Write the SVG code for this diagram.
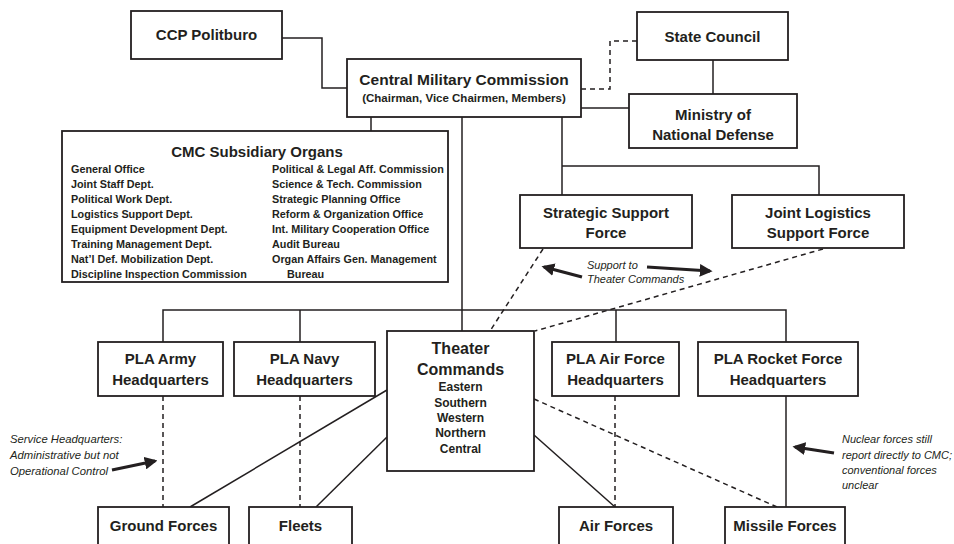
<svg xmlns="http://www.w3.org/2000/svg" width="954" height="544" viewBox="0 0 954 544">
<style>
.box{fill:#fff;stroke:#231f20;stroke-width:1.8}
.ln{fill:none;stroke:#231f20;stroke-width:1.5}
.dash{fill:none;stroke:#231f20;stroke-width:1.5;stroke-dasharray:5 4}
.arr{fill:none;stroke:#231f20;stroke-width:3.2}
text{font-family:"Liberation Sans",Arial,sans-serif;fill:#231f20}
.t{font-size:15px;font-weight:bold;text-anchor:middle}
.s{font-size:12px;font-weight:bold;text-anchor:middle}
.i{font-size:10.8px;font-weight:bold}
.n{font-size:11px;font-style:italic}
</style>
<defs>
<marker id="ah" viewBox="0 0 10 10" refX="8" refY="5" markerWidth="4" markerHeight="4" orient="auto" markerUnits="strokeWidth">
<path d="M0,0 L10,5 L0,10 Z" fill="#231f20"/>
</marker>
</defs>
<rect width="954" height="544" fill="#fff"/>
<g id="connectors">
<path class="ln" d="M282,38 H322 V88 H347"/>
<path class="dash" d="M581,89 H610 V41 H637"/>
<path class="ln" d="M713,60 V94"/>
<path class="ln" d="M581,108 H629"/>
<path class="ln" d="M371,117 V131"/>
<path class="ln" d="M562,117 V195"/>
<path class="ln" d="M562,166 H819 V195"/>
<path class="ln" d="M462,117 V331"/>
<path class="ln" d="M163,342 V310 H786 V342"/>
<path class="ln" d="M300,310 V342"/>
<path class="ln" d="M616,310 V342"/>
<path class="dash" d="M543,249 L490,331"/>
<path class="dash" d="M823,249 L535,331"/>
<path class="dash" d="M163,396 V507"/>
<path class="dash" d="M300,396 V507"/>
<path class="dash" d="M615,396 V507"/>
<path class="ln" d="M786,396 V507"/>
<path class="ln" d="M387,390 L190,507"/>
<path class="ln" d="M387,437 L316,507"/>
<path class="ln" d="M534,435 L615,507"/>
<path class="dash" d="M534,399 L777,507"/>
<path class="arr" d="M112,470 L155,461" marker-end="url(#ah)"/>
<path class="arr" d="M834,453 L795,447" marker-end="url(#ah)"/>
<path class="arr" d="M582,277 L544,267" marker-end="url(#ah)"/>
<path class="arr" d="M647,267 L710,271" marker-end="url(#ah)"/>
</g>
<g id="ccp-politburo"><rect class="box" x="131" y="11" width="151" height="48"/><text class="t" x="206.5" y="40">CCP Politburo</text></g>
<g id="cmc"><rect class="box" x="347" y="59" width="234" height="58"/><text class="t" x="464" y="85" style="font-size:15.5px">Central Military Commission</text><text class="s" x="464" y="102" style="font-size:11.5px">(Chairman, Vice Chairmen, Members)</text></g>
<g id="state-council"><rect class="box" x="637" y="12" width="151" height="48"/><text class="t" x="712.5" y="42">State Council</text></g>
<g id="mnd"><rect class="box" x="629" y="94" width="168" height="54"/><text class="t" x="713" y="120">Ministry of</text><text class="t" x="713" y="140">National Defense</text></g>
<g id="cmc-subsidiary-organs"><rect class="box" x="62" y="131" width="386" height="151"/>
<text class="t" x="257" y="157">CMC Subsidiary Organs</text>
<text class="i" x="71" y="173">General Office</text>
<text class="i" x="71" y="188">Joint Staff Dept.</text>
<text class="i" x="71" y="203">Political Work Dept.</text>
<text class="i" x="71" y="218">Logistics Support Dept.</text>
<text class="i" x="71" y="233">Equipment Development Dept.</text>
<text class="i" x="71" y="248">Training Management Dept.</text>
<text class="i" x="71" y="263">Nat’l Def. Mobilization Dept.</text>
<text class="i" x="71" y="278">Discipline Inspection Commission</text>
<text class="i" x="272" y="173">Political &amp; Legal Aff. Commission</text>
<text class="i" x="272" y="188">Science &amp; Tech. Commission</text>
<text class="i" x="272" y="203">Strategic Planning Office</text>
<text class="i" x="272" y="218">Reform &amp; Organization Office</text>
<text class="i" x="272" y="233">Int. Military Cooperation Office</text>
<text class="i" x="272" y="248">Audit Bureau</text>
<text class="i" x="272" y="263">Organ Affairs Gen. Management</text>
<text class="i" x="287" y="278">Bureau</text>
</g>
<g id="ssf"><rect class="box" x="520" y="195" width="172" height="53"/><text class="t" x="606" y="218">Strategic Support</text><text class="t" x="606" y="238">Force</text></g>
<g id="jlsf"><rect class="box" x="732" y="195" width="172" height="53"/><text class="t" x="818" y="218">Joint Logistics</text><text class="t" x="818" y="238">Support Force</text></g>
<g id="army-hq"><rect class="box" x="98" y="342" width="125" height="54"/><text class="t" x="160.5" y="364">PLA Army</text><text class="t" x="160.5" y="385">Headquarters</text></g>
<g id="navy-hq"><rect class="box" x="234" y="342" width="141" height="54"/><text class="t" x="304.5" y="364">PLA Navy</text><text class="t" x="304.5" y="385">Headquarters</text></g>
<g id="theater-commands"><rect class="box" x="387" y="331" width="147" height="140"/>
<text class="t" x="460.5" y="354" style="font-size:16px">Theater</text>
<text class="t" x="460.5" y="375" style="font-size:16px">Commands</text>
<text class="s" x="460.5" y="391">Eastern</text>
<text class="s" x="460.5" y="407">Southern</text>
<text class="s" x="460.5" y="422">Western</text>
<text class="s" x="460.5" y="437">Northern</text>
<text class="s" x="460.5" y="453">Central</text>
</g>
<g id="airforce-hq"><rect class="box" x="552" y="342" width="127" height="54"/><text class="t" x="615.5" y="364">PLA Air Force</text><text class="t" x="615.5" y="385">Headquarters</text></g>
<g id="rocket-hq"><rect class="box" x="698" y="342" width="160" height="54"/><text class="t" x="778" y="364">PLA Rocket Force</text><text class="t" x="778" y="385">Headquarters</text></g>
<g id="ground-forces"><rect class="box" x="98" y="507" width="131" height="42"/><text class="t" x="163.5" y="531">Ground Forces</text></g>
<g id="fleets"><rect class="box" x="249" y="507" width="103" height="42"/><text class="t" x="300.5" y="531">Fleets</text></g>
<g id="air-forces"><rect class="box" x="559" y="507" width="114" height="42"/><text class="t" x="616" y="531">Air Forces</text></g>
<g id="missile-forces"><rect class="box" x="725" y="507" width="120" height="42"/><text class="t" x="785" y="531">Missile Forces</text></g>
<g id="annotations">
<text class="n" x="10" y="443" style="font-size:11.3px">Service Headquarters:</text>
<text class="n" x="10" y="459" style="font-size:11.3px">Administrative but not</text>
<text class="n" x="10" y="475" style="font-size:11.3px">Operational Control</text>
<text class="n" x="842" y="443">Nuclear forces still</text>
<text class="n" x="842" y="459">report directly to CMC;</text>
<text class="n" x="842" y="474">conventional forces</text>
<text class="n" x="842" y="489">unclear</text>
<text class="n" x="587" y="269">Support to</text>
<text class="n" x="587" y="283">Theater Commands</text>
</g>
</svg>
